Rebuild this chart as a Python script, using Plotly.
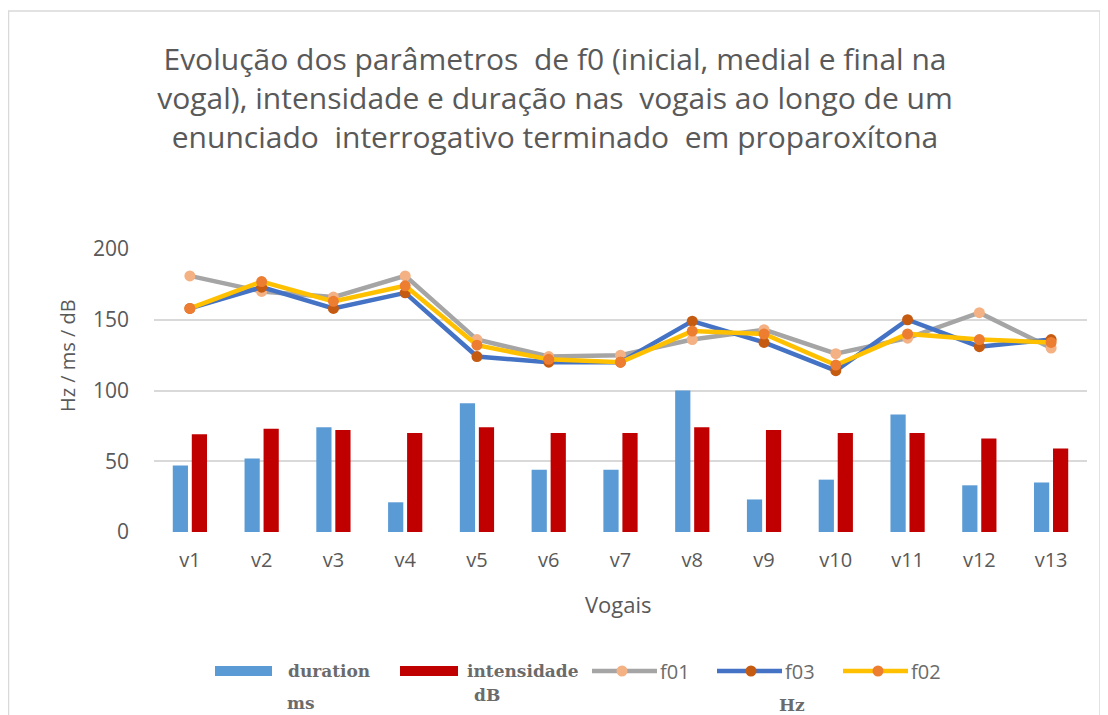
import plotly.graph_objects as go

categories = ["v1", "v2", "v3", "v4", "v5", "v6", "v7", "v8", "v9", "v10", "v11", "v12", "v13"]
duration = [47, 52, 74, 21, 91, 44, 44, 100, 23, 37, 83, 33, 35]
intensidade = [69, 73, 72, 70, 74, 70, 70, 74, 72, 70, 70, 66, 59]
f01 = [181, 170, 166, 181, 136, 124, 125, 136, 143, 126, 137, 155, 130]
f03 = [158, 173, 158, 169, 124, 120, 120, 149, 134, 114, 150, 131, 136]
f02 = [158, 177, 163, 174, 132, 122, 120, 142, 140, 118, 140, 136, 134]

# page body has an 8px margin; targets below are in screenshot pixels
OFF = 8
W, H = 1108, 715
L, T = 154 - OFF, 249 - OFF
R = W - (1087 - OFF)
B = H - (532 - OFF)
pw, ph = W - L - R, H - T - B


def px(x):
    return (x - OFF - L) / pw


def py(y):
    return (H - B - (y - OFF)) / ph


gray = "#595959"
lgray = "#6b6b6b"
serif = "DejaVu Serif"
sans = "Open Sans"

COL = dict(duration="#5B9BD5", intensidade="#C00000",
           f01=("#A5A5A5", "#F4B183"), f03=("#4472C4", "#C55A11"), f02=("#FFC000", "#ED7D31"))

fig = go.Figure()
fig.add_trace(go.Bar(x=categories, y=duration, name="duration ms",
                     marker=dict(color=COL["duration"], line=dict(width=0))))
fig.add_trace(go.Bar(x=categories, y=intensidade, name="intensidade dB",
                     marker=dict(color=COL["intensidade"], line=dict(width=0))))
for nm, vals in [("f01", f01), ("f03", f03), ("f02", f02)]:
    lc, mc = COL[nm]
    fig.add_trace(go.Scatter(x=categories, y=vals, name=nm, mode="lines+markers",
                             line=dict(color=lc, width=4.5),
                             marker=dict(color=mc, size=11, line=dict(width=0))))

fig.update_layout(
    width=W, height=H,
    margin=dict(l=L, r=R, t=T, b=B, autoexpand=False),
    paper_bgcolor="white", plot_bgcolor="white",
    barmode="group", bargap=0.47, bargroupgap=0.2,
    font=dict(family=sans, color=gray),
    showlegend=False,
    title=dict(
        text="Evolução dos parâmetros  de f0 (inicial, medial e final na<br>vogal), intensidade e duração nas  vogais ao longo de um<br>enunciado  interrogativo terminado  em proparoxítona",
        x=(555 - OFF) / W, xanchor="center", y=1 - (70 - OFF) / H, yanchor="top",
        font=dict(family=sans, size=30, color=gray),
    ),
    xaxis=dict(range=[-0.5, 12.5], showgrid=False, showline=False, ticks="",
               tickfont=dict(size=20, color=gray), ticklabelstandoff=14),
    yaxis=dict(range=[0, 200], dtick=50, showgrid=True, gridcolor="#D9D9D9", gridwidth=2,
               zeroline=False, showline=False, ticks="",
               tickfont=dict(size=21, color=gray), ticklabelstandoff=24),
)


def note(text, x, y, size, family=sans, xanchor="center", angle=0, color=gray):
    fig.add_annotation(text=text, x=px(x), y=py(y), xref="paper", yref="paper",
                       xanchor=xanchor, yanchor="middle", textangle=angle, showarrow=False,
                       font=dict(family=family, size=size, color=color))


# axis titles
note("Vogais", 618, 604, 22)
note("Hz / ms / dB", 67, 356, 20, angle=-90)

# legend (drawn by hand to match wide swatches)
LY = 671
for nm, x0, x1 in [("duration", 215, 272), ("intensidade", 400, 458)]:
    fig.add_shape(type="rect", xref="paper", yref="paper", x0=px(x0), x1=px(x1),
                  y0=py(LY + 5), y1=py(LY - 5), fillcolor=COL[nm], line=dict(width=0))
for txt, x in [("duration", 286), ("intensidade", 465)]:
    note("<b>" + txt + "</b>", x, LY, 17, family=serif, xanchor="left", color=lgray)
for nm, x0, x1, xm in [("f01", 592, 657, 622), ("f03", 717, 782, 751), ("f02", 843, 908, 878)]:
    lc, mc = COL[nm]
    fig.add_shape(type="line", xref="paper", yref="paper", x0=px(x0), x1=px(x1),
                  y0=py(LY), y1=py(LY), line=dict(color=lc, width=4.5))
    r = 5.5
    fig.add_shape(type="circle", xref="paper", yref="paper", x0=px(xm - r), x1=px(xm + r),
                  y0=py(LY + r), y1=py(LY - r), fillcolor=mc, line=dict(width=0))
    note(nm, x1 + 1, LY, 20, xanchor="left", color=lgray)
for txt, x, y in [("ms", 301, 703), ("dB", 487, 695), ("Hz", 792, 705)]:
    note("<b>" + txt + "</b>", x, y, 17, family=serif, color=lgray)

# outer frame
fig.add_shape(type="rect", xref="paper", yref="paper",
              x0=px(8.5), x1=px(1100), y0=py(730), y1=py(11),
              line=dict(color="#D9D9D9", width=1.5), fillcolor="rgba(0,0,0,0)", layer="below")

fig.write_html("out.html")
